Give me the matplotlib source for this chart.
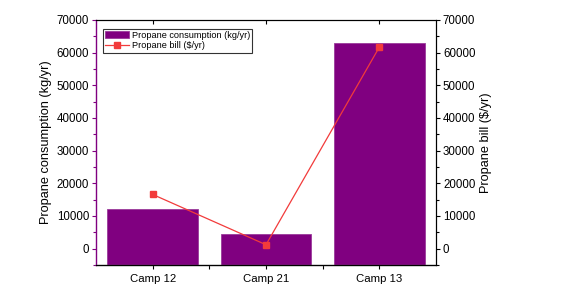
import matplotlib
matplotlib.use("Agg")
import matplotlib.pyplot as plt
import numpy as np

plt.rcParams['font.family'] = ['Liberation Sans', 'DejaVu Sans']

categories = ["Camp 12", "Camp 21", "Camp 13"]
consumption = [12200, 4500, 63000]
bill = [16600, 1200, 61700]

purple = "#800080"
red = "#F23B3B"
ymin, ymax = -5000, 70000

fig = plt.figure(figsize=(5.8, 3.04), dpi=100)
ax = fig.add_axes([96/580, 1-265/304, 340/580, 245/304])
x = np.arange(len(categories))
ax.bar(x, np.array(consumption) - ymin, bottom=ymin, width=0.8, color=purple,
       edgecolor="#9A3A9A", linewidth=0.6,
       label="Propane consumption (kg/yr)", zorder=2)
ax.set_xlim(-0.5, 2.5)
ax.set_ylim(ymin, ymax)
ax.set_yticks(np.arange(0, 70001, 10000))
ax.set_yticks(np.arange(-5000, 70001, 5000), minor=True)
ax.set_xticks(x)
ax.set_xticklabels(categories)
ax.set_xticks([0.5, 1.5], minor=True)
ax.tick_params(axis='y', colors=purple, labelcolor='black', labelsize=8.3, length=3, width=0.8, pad=2)
ax.tick_params(axis='y', which='minor', colors=purple, length=2, width=0.8)
ax.tick_params(axis='x', labelsize=8.2, length=3, width=0.8, top=True, direction='out')
ax.tick_params(axis='x', which='minor', length=3, width=0.8, top=False)
ax.spines['left'].set_color(purple)
ax.spines['left'].set_linewidth(1.0)
ax.spines['bottom'].set_color('#555555')
ax.spines['bottom'].set_linewidth(1.0)
ax.spines['top'].set_linewidth(0.8)
ax.set_ylabel("Propane consumption (kg/yr)", fontsize=9.2, labelpad=3)

ax2 = ax.twinx()
ax2.plot(x, bill, color=red, marker='s', markersize=5, linewidth=0.9,
         label="Propane bill ($/yr)", zorder=3)
ax2.set_ylim(ymin, ymax)
ax2.set_yticks(np.arange(0, 70001, 10000))
ax2.set_yticks(np.arange(-5000, 70001, 5000), minor=True)
ax2.tick_params(axis='y', labelsize=8.3, length=3, width=0.8, pad=2)
ax2.tick_params(axis='y', which='minor', length=2, width=0.8)
ax2.spines['left'].set_visible(False)
ax2.spines['right'].set_linewidth(0.8)
ax2.set_ylabel("Propane bill ($/yr)", fontsize=9.2, labelpad=3)

for t in ax.xaxis.get_major_ticks():
    t.tick2line.set_marker(3)

h1, l1 = ax.get_legend_handles_labels()
h2, l2 = ax2.get_legend_handles_labels()
leg = ax2.legend(h1 + h2, l1 + l2, loc='upper left', bbox_to_anchor=(0.02, 0.965),
                 fontsize=6.6, frameon=True, fancybox=False, edgecolor='black',
                 borderpad=0.25, labelspacing=0.15, handlelength=2.6, handletextpad=0.3,
                 borderaxespad=0)
leg.get_frame().set_linewidth(0.8)

fig.savefig("out.png", dpi=100)
